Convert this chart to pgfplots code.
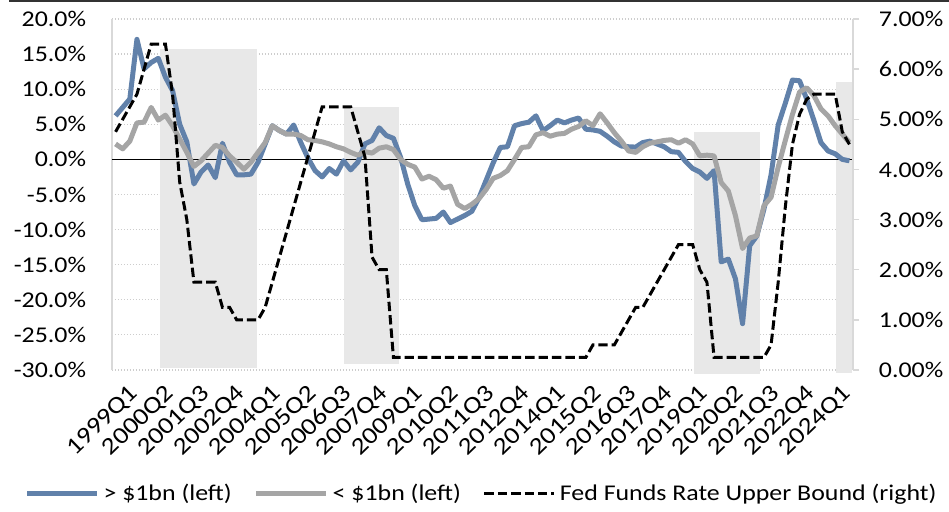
\documentclass[border=0pt]{standalone}
\usepackage{fontspec}
\setmainfont{Carlito}[FakeStretch=1.15]
\usepackage{pgfplots}
\usepackage{pgfplotstable}
\pgfplotsset{compat=1.18}

\definecolor{bigblue}{RGB}{97,129,170}
\definecolor{smallgray}{RGB}{165,165,165}
\definecolor{shade}{RGB}{232,232,232}
\definecolor{gridgray}{RGB}{205,205,205}
\definecolor{axisgray}{RGB}{217,217,217}
\definecolor{topbar}{RGB}{50,50,50}

\tikzset{
  bigline/.style={draw=bigblue, line width=2.5pt, line join=round},
  smallline/.style={draw=smallgray, line width=2.5pt, line join=round},
  fedline/.style={draw=black, line width=1.5pt, dash pattern=on 4.7pt off 2pt},
}

% quarter index (0 = 1999Q1), >$1bn, <$1bn, fed funds upper bound
\pgfplotstableread{
i big small fed
0 6.2 2.2 4.75
1 7.4 1.5 5.0
2 8.6 2.6 5.25
3 17.1 5.2 5.5
4 12.9 5.3 6.0
5 13.8 7.4 6.5
6 14.4 5.6 6.5
7 11.7 6.3 6.5
8 9.8 4.8 5.5
9 5.0 2.9 3.75
10 2.5 1.0 3.0
11 -3.5 -1.0 1.75
12 -1.8 -0.2 1.75
13 -0.8 0.9 1.75
14 -2.6 2.0 1.75
15 2.3 1.7 1.25
16 -0.4 0.5 1.25
17 -2.2 -0.4 1.0
18 -2.2 -1.4 1.0
19 -2.1 -0.4 1.0
20 -0.4 1.0 1.0
21 2.2 2.4 1.25
22 4.8 4.8 1.75
23 4.1 4.1 2.25
24 3.6 3.6 2.75
25 4.9 3.6 3.25
26 2.4 3.4 3.75
27 0.2 2.8 4.25
28 -1.6 2.7 4.75
29 -2.5 2.5 5.25
30 -1.3 2.2 5.25
31 -2.1 1.8 5.25
32 -0.2 1.5 5.25
33 -1.5 1.0 5.25
34 -0.4 0.6 4.75
35 2.2 1.1 4.25
36 2.7 0.9 2.25
37 4.5 1.6 2.0
38 3.4 1.8 2.0
39 3.0 1.4 0.25
40 0.3 0.0 0.25
41 -3.5 -0.7 0.25
42 -6.6 -1.1 0.25
43 -8.6 -2.8 0.25
44 -8.5 -2.4 0.25
45 -8.4 -2.9 0.25
46 -7.5 -4.1 0.25
47 -9.0 -3.8 0.25
48 -8.5 -6.4 0.25
49 -8.0 -7.0 0.25
50 -7.4 -6.4 0.25
51 -5.5 -5.6 0.25
52 -3.0 -4.3 0.25
53 -0.5 -2.7 0.25
54 1.7 -2.3 0.25
55 1.8 -1.6 0.25
56 4.8 0.0 0.25
57 5.1 1.7 0.25
58 5.3 1.8 0.25
59 6.2 3.5 0.25
60 4.1 3.8 0.25
61 4.8 3.3 0.25
62 5.6 3.6 0.25
63 5.2 3.7 0.25
64 5.6 4.3 0.25
65 5.9 4.7 0.25
66 4.3 5.5 0.25
67 4.2 4.8 0.5
68 4.0 6.5 0.5
69 3.3 5.2 0.5
70 2.5 3.8 0.5
71 1.9 2.6 0.75
72 1.8 1.2 1.0
73 1.75 1.0 1.25
74 2.4 1.8 1.25
75 2.6 2.3 1.5
76 2.2 2.5 1.75
77 1.8 2.7 2.0
78 1.1 2.8 2.25
79 1.0 2.3 2.5
80 -0.3 2.8 2.5
81 -1.3 2.2 2.5
82 -1.8 0.5 2.0
83 -2.7 0.6 1.75
84 -1.6 0.5 0.25
85 -14.6 -3.3 0.25
86 -14.2 -4.5 0.25
87 -17.0 -8.0 0.25
88 -23.4 -12.7 0.25
89 -12.3 -11.2 0.25
90 -10.9 -10.9 0.25
91 -7.1 -6.6 0.25
92 -2.2 -5.4 0.5
93 4.9 -1.1 1.75
94 8.0 2.7 3.25
95 11.3 6.4 4.5
96 11.2 9.6 5.1
97 8.6 10.2 5.4
98 5.6 9.1 5.5
99 2.4 7.2 5.5
100 1.2 6.2 5.5
101 0.8 4.8 5.5
102 0.0 3.6 4.75
103 -0.2 2.4 4.5
}\data

\begin{document}
\fontsize{11.25pt}{13.5pt}\selectfont
\begin{tikzpicture}
\useasboundingbox (0,0) rectangle (474.5pt,256pt);
\fill[topbar] (4.5pt,255pt) rectangle (474.5pt,256pt);

\begin{axis}[
    at={(56pt,71pt)}, anchor=south west,
    scale only axis, width=370.5pt, height=175.5pt,
    xmin=-0.5, xmax=103.5, ymin=-30, ymax=20,
    clip=false,
    axis x line*=bottom, axis y line*=left,
    x axis line style={draw=none},
    y axis line style={-, draw=axisgray, line width=0.75pt},
    major tick length=0pt,
    xtick={0,5,...,100},
    xticklabels={1999Q1,2000Q2,2001Q3,2002Q4,2004Q1,2005Q2,2006Q3,2007Q4,2009Q1,2010Q2,2011Q3,2012Q4,2014Q1,2015Q2,2016Q3,2017Q4,2019Q1,2020Q2,2021Q3,2022Q4,2024Q1},
    xticklabel style={rotate=44, anchor=east, yshift=-14pt, xshift=1pt,
        font=\fontsize{12pt}{14pt}\selectfont, inner sep=1pt},
    ytick={-30,-25,...,20},
    yticklabel={\pgfmathprintnumber[fixed,fixed zerofill,precision=1]{\tick}\%},
    yticklabel style={xshift=-9pt},
    ymajorgrids,
    grid style={draw=gridgray, line width=0.6pt, dash pattern=on 0.6pt off 0.9pt},
    /pgf/number format/assume math mode=true,
]
% shaded periods
\addplot[fill=shade, draw=none, forget plot] coordinates {(6.2,-29.7) (19.8,-29.7) (19.8,15.75) (6.2,15.75)} -- cycle;
\addplot[fill=shade, draw=none, forget plot] coordinates {(32.05,-29.2) (39.8,-29.2) (39.8,7.5) (32.05,7.5)} -- cycle;
\addplot[fill=shade, draw=none, forget plot] coordinates {(81.2,-30.6) (90.5,-30.6) (90.5,3.9) (81.2,3.9)} -- cycle;
\addplot[fill=shade, draw=none, forget plot] coordinates {(101.1,-30.4) (103.35,-30.4) (103.35,11.0) (101.1,11.0)} -- cycle;
% zero line
\addplot[black, line width=0.5pt, forget plot] coordinates {(-0.5,0) (103.5,0)};
\addplot[bigline] table[x=i, y=big] {\data};
\addplot[smallline] table[x=i, y=small] {\data};
\end{axis}

\begin{axis}[
    at={(56pt,71pt)}, anchor=south west,
    scale only axis, width=370.5pt, height=175.5pt,
    xmin=-0.5, xmax=103.5, ymin=0, ymax=7,
    axis x line=none, axis y line*=right,
    y axis line style={-, draw=axisgray, line width=0.75pt},
    ytick={0,1,...,7},
    yticklabel={\pgfmathprintnumber[fixed,fixed zerofill,precision=2]{\tick}\%},
    tick align=outside, major tick length=3pt,
    ytick style={draw=axisgray, line width=0.75pt},
    yticklabel style={xshift=6pt},
    /pgf/number format/assume math mode=true,
    legend columns=3,
    legend style={at={(0.5,-0.353)}, anchor=center, draw=none, fill=none,
        /tikz/every even column/.append style={column sep=9pt}},
    legend cell align=left,
    legend image code/.code={\draw[#1] (0pt,0pt) -- (35pt,0pt);},
]
\addlegendimage{bigline}
\addlegendentry{> \$1bn (left)}
\addlegendimage{smallline}
\addlegendentry{< \$1bn (left)}
\addplot[fedline] table[x=i, y=fed] {\data};
\addlegendentry{Fed Funds Rate Upper Bound (right)}
\end{axis}
\end{tikzpicture}
\end{document}
